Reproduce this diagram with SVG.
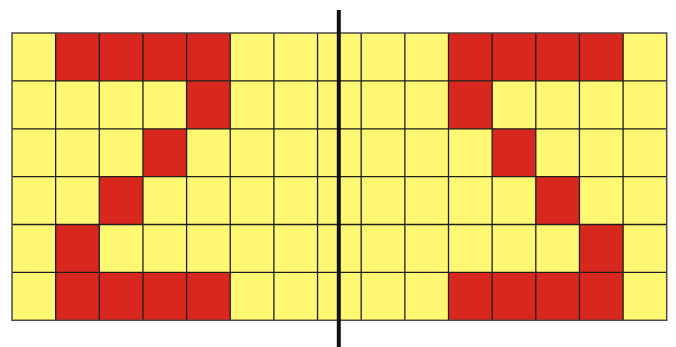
<svg xmlns="http://www.w3.org/2000/svg" width="676" height="347" viewBox="0 0 676 347">
<defs>
<style>
.y{fill:#fff873}
.r{fill:#d7271e}
.g{stroke:#1e1e1e;stroke-width:1.3;fill:none}
</style>
</defs>
<rect width="676" height="347" fill="#fff"/>
<g id="grid">
<rect class="y" x="12" y="33" width="654.7" height="287.3"/>
<g id="left-figure" class="r">
<rect x="55.65" y="33" width="174.6" height="47.9"/>
<rect x="186.6" y="80.9" width="43.65" height="47.9"/>
<rect x="142.95" y="128.8" width="43.65" height="47.9"/>
<rect x="99.3" y="176.6" width="43.65" height="47.9"/>
<rect x="55.65" y="224.5" width="43.65" height="47.9"/>
<rect x="55.65" y="272.4" width="174.6" height="47.9"/>
</g>
<g id="right-figure" class="r">
<rect x="448.5" y="33" width="174.6" height="47.9"/>
<rect x="448.5" y="80.9" width="43.65" height="47.9"/>
<rect x="492.15" y="128.8" width="43.65" height="47.9"/>
<rect x="535.8" y="176.6" width="43.65" height="47.9"/>
<rect x="579.45" y="224.5" width="43.65" height="47.9"/>
<rect x="448.5" y="272.4" width="174.6" height="47.9"/>
</g>
<g class="g">
<path d="M55.65 33V320.3M99.3 33V320.3M142.95 33V320.3M186.6 33V320.3M230.25 33V320.3M273.9 33V320.3M317.55 33V320.3M361.2 33V320.3M404.85 33V320.3M448.5 33V320.3M492.15 33V320.3M535.8 33V320.3M579.45 33V320.3M623.1 33V320.3"/>
<path d="M12 80.9H666.7M12 128.8H666.7M12 176.6H666.7M12 224.5H666.7M12 272.4H666.7"/>
<rect x="12" y="33" width="654.7" height="287.3" stroke="#4a4a4a" stroke-width="1.5"/>
</g>
</g>
<g id="mirror-line">
<line x1="338.8" y1="10" x2="338.8" y2="347" stroke="#111" stroke-width="4"/>
</g>
</svg>
